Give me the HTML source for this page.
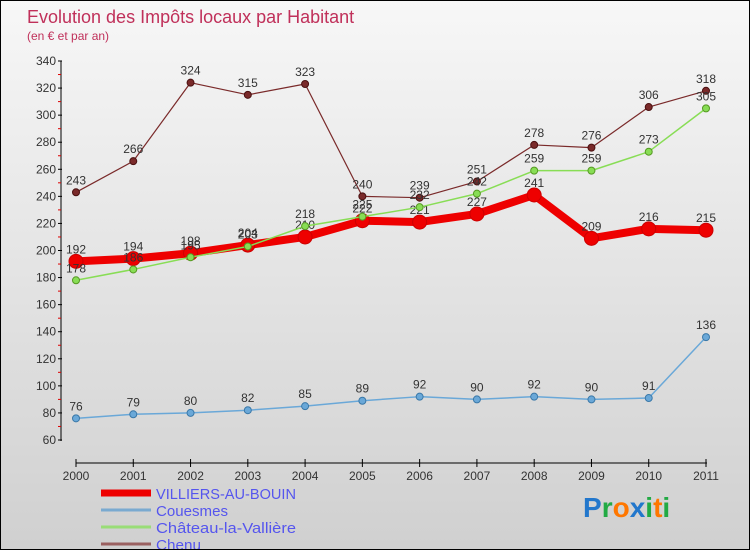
<!DOCTYPE html>
<html><head><meta charset="utf-8"><style>
body{margin:0}
#c{width:748px;height:548px;border:1px solid #000;background:linear-gradient(#f7f7f7,#d0d0d0);position:relative;font-family:"Liberation Sans",sans-serif;overflow:hidden}
</style></head><body>
<div id="c">
<svg width="748" height="548" id="svg"></svg>
</div>
<script>
const years=[2000,2001,2002,2003,2004,2005,2006,2007,2008,2009,2010,2011];
const villiers=[192,194,198,204,210,222,221,227,241,209,216,215];
const couesmes=[76,79,80,82,85,89,92,90,92,90,91,136];
const chateau=[178,186,195,203,218,225,232,242,259,259,273,305];
const chenu=[243,266,324,315,323,240,239,251,278,276,306,318];
const yTicks=[60,80,100,120,140,160,180,200,220,240,260,280,300,320,340];
const NS="http://www.w3.org/2000/svg";
const svg=document.getElementById('svg');
function X(i){return 75+i*(630/11);}
function Y(v){return 439-(v-60)*(379/280);}
function el(t,a,p){const e=document.createElementNS(NS,t);for(const k in a)e.setAttribute(k,a[k]);(p||svg).appendChild(e);return e;}
function txt(x,y,s,a){const t=el('text',Object.assign({x:x,y:y},a));t.textContent=s;return t;}
let t;
t=txt(26,22,'Evolution des Impôts locaux par Habitant',{fill:'#c0305a','font-size':18});

t=txt(26,39,'(en € et par an)',{fill:'#c0305a','font-size':12});

// axes
let ax=el('line',{x1:60,y1:60,x2:60,y2:440,stroke:'#000'});

ax=el('line',{x1:75,y1:462,x2:706,y2:462,stroke:'#000'});

yTicks.forEach(v=>{
 el('line',{x1:57,y1:Y(v),x2:61,y2:Y(v),stroke:'#000'});
 if(v<340)el('line',{x1:57,y1:Y(v+10),x2:60,y2:Y(v+10),stroke:'#d00'});
 const l=txt(55,Y(v)+4,String(v),{fill:'#333','font-size':12,'text-anchor':'end'});
 
});
years.forEach((yr,i)=>{
 el('line',{x1:X(i),y1:458,x2:X(i),y2:466,stroke:'#000'});
 const l=txt(X(i),479,String(yr),{fill:'#333','font-size':12,'text-anchor':'middle'});
 
});
function series(data,color,w,r,name,dark){
 const g=el('g',{});
 
 const p=el('polyline',{points:data.map((v,i)=>X(i)+','+Y(v)).join(' '),fill:'none',stroke:color,'stroke-width':w,'stroke-linejoin':'round'},g);
 
 data.forEach((v,i)=>{
  const c=el('circle',{cx:X(i),cy:Y(v),r:r,fill:color,stroke:dark,'stroke-width':1},g);
  
  const l=txt(X(i),Y(v)-8,String(v),{fill:'#333','font-size':12,'text-anchor':'middle'},g);
  
 });
}
series(couesmes,'#6aa8d8',1.5,3.5,'couesmes','#3a78a8');
series(chenu,'#7a2a2a',1.2,3.5,'chenu','#4a1010');
series(villiers,'#ee0000',8,7,'villiers','#cc0000');
series(chateau,'#88dd55',1.5,3.5,'chateau','#559922');
// legend
const leg=[['VILLIERS-AU-BOUIN','#ee0000',7],['Couesmes','#7aaad0',3],['Château-la-Vallière','#99dd77',3],['Chenu','#9a6060',3]];
leg.forEach((d,i)=>{
 const y=492+i*17;
 const g=el('g',{});
 el('line',{x1:100,y1:y,x2:150,y2:y,stroke:d[1],'stroke-width':d[2]},g);
 txt(155,y+6,d[0],{fill:'#5555ee','font-size':15,'textLength':d[0].length>10?(i==0?140:140):(i==1?72:45),'lengthAdjust':'spacingAndGlyphs'},g);
});
// logo
const lg=el('text',{x:582,y:516,'font-size':28,'font-weight':'bold'});

[['P','#2277cc'],['r','#22aa44'],['o','#ff7700'],['x','#2277cc'],['i','#22aa44'],['t','#ff7700'],['i','#22aa44']].forEach(a=>{const s=el('tspan',{fill:a[1]},lg);s.textContent=a[0];});
</script>
</body></html>
